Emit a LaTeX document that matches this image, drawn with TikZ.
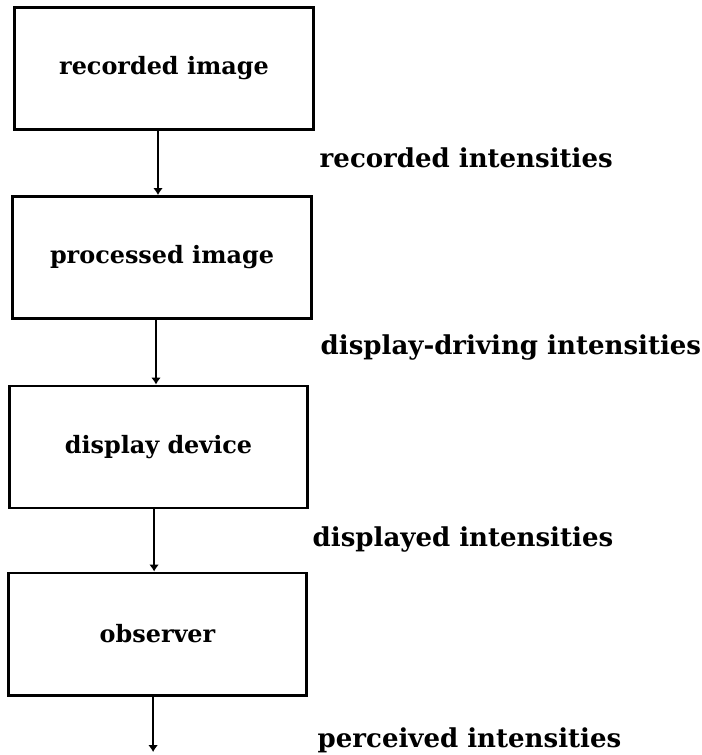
\documentclass[tikz,border=0pt]{standalone}
\usepackage{fontspec}
\setmainfont{DejaVu Serif}
\usepackage{tikz}
\usetikzlibrary{arrows.meta}

\tikzset{stage/.style={draw, line width=2.1pt, minimum width=7.45cm, minimum height=3.05cm, font=\fontsize{17}{20}\selectfont\bfseries},
	flow/.style={anchor=west, font=\fontsize{18.5}{22}\selectfont\bfseries}}

\begin{document}
\begin{tikzpicture}[x=0.025cm, y=-0.025cm, >={Latex[length=0.17cm, width=0.24cm]}, line width=1.5pt]
	\useasboundingbox (0, 0) rectangle (702, 755);
        \node [stage] (REC) at (164, 68.5) {recorded image}; 
	\node [stage] (PROC) at (162, 257.5) {processed image}; 
        \node [stage] (DISP) at (158.5, 447) {display device}; 
	\node [stage] (OBS) at (157.5, 634) {observer}; 
	\coordinate (END) at (153, 752); 
	\node [flow] (RI) at (314, 158) {recorded intensities}; 
	\node [flow] (DDI) at (315, 348) {display-driving intensities}; 
	\node [flow] (DI) at (307, 540) {displayed intensities}; 
	\node [flow] (PI) at (312, 740) {perceived intensities}; 
	\draw [->] ([xshift=-0.15cm]REC.south) -- ([xshift=-0.15cm]REC.south |- PROC.north); 
	\draw [->] ([xshift=-0.15cm]PROC.south) -- ([xshift=-0.15cm]PROC.south |- DISP.north); 
	\draw [->] ([xshift=-0.11cm]DISP.south) -- ([xshift=-0.11cm]DISP.south |- OBS.north); 
	\draw [->] ([xshift=-0.11cm]OBS.south) -- ([xshift=-0.11cm]OBS.south |- END); 
\end{tikzpicture}
\end{document}
